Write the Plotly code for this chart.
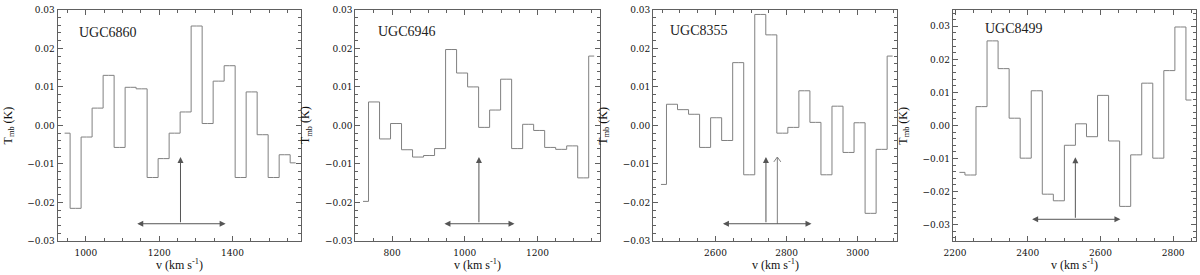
import plotly.graph_objects as go

# ---------------- data ----------------
names = ["UGC6860", "UGC6946", "UGC8355", "UGC8499"]

v_start = [942, 720, 2447, 2212]          # km/s, first channel centre
v_step = [30.0, 30.3, 31.0, 30.4]         # km/s, channel width

t_ugc6860 = [-0.002, -0.0215, -0.003, 0.0045, 0.013, -0.0057, 0.0099, 0.0095,
             -0.0135, -0.0086, -0.002, 0.0035, 0.0258, 0.0005, 0.0115, 0.0155,
             -0.0135, 0.0087, -0.0024, -0.0135, -0.0076, -0.0097]
t_ugc6946 = [-0.0197, 0.0061, -0.0035, 0.0005, -0.0063, -0.0082, -0.0078, -0.006,
             0.0197, 0.0136, 0.010, -0.0005, 0.004, 0.012, -0.006, 0.0003,
             -0.0013, -0.0057, -0.0062, -0.0053, -0.0136, 0.018]
t_ugc8355 = [-0.0153, 0.0055, 0.0041, 0.0029, -0.0057, 0.002, -0.0039, 0.0163,
             -0.0128, 0.0288, 0.0235, -0.002, -0.0005, 0.009, 0.0008, -0.0128,
             0.005, -0.007, 0.0007, -0.0228, -0.0062, 0.018]
t_ugc8499 = [-0.0142, -0.015, 0.0057, 0.0256, 0.0172, 0.0022, -0.0099, 0.0105,
             -0.0208, -0.0228, -0.006, 0.0005, -0.0034, 0.0091, -0.0047, -0.0245,
             -0.0089, 0.0128, -0.0099, 0.0166, 0.0298, 0.0077]
spectra = [t_ugc6860, t_ugc6946, t_ugc8355, t_ugc8499]

x_ranges = [[923, 1586], [699, 1371], [2425, 3111], [2194, 2863]]
y_ranges = [[-0.03, 0.0300001], [-0.03, 0.0300001], [-0.03, 0.0300001], [-0.035, 0.035]]

# arrows: systemic velocity (filled), optional second velocity (open), width range
arrow_vsys = [1258, 1039, 2742, 2531]
arrow_vopen = [None, None, 2774, None]
arrow_tip = [-0.0082, -0.0082, -0.0082, -0.0096]
arrow_base = [-0.0255, -0.0255, -0.0255, -0.0284]
arrow_left = [1136, 940, 2617, 2408]
arrow_right = [1381, 1137, 2870, 2655]

# ---------------- layout helpers ----------------
W, H = 1200, 275
panel_px = [(49, 294), (349, 595), (649, 895), (951, 1196)]
top_px, bot_px = 5, 245
name_pos_x = [0.081, 0.085, 0.062, 0.122]
name_pos_y = [0.904, 0.905, 0.91, 0.92]

LINE = "#808080"
AXC = "#606060"
FONT = "Liberation Serif"
TICKFONT = "DejaVu Serif"

fig = go.Figure()
annotations = []

for i in range(4):
    n = i + 1
    xa = "x" if n == 1 else f"x{n}"
    ya = "y" if n == 1 else f"y{n}"
    xs = [v_start[i] + v_step[i] * k for k in range(len(spectra[i]))]
    fig.add_trace(go.Scatter(x=xs, y=spectra[i], mode="lines",
                             line=dict(shape="hvh", color=LINE, width=1),
                             xaxis=xa, yaxis=ya, showlegend=False, hoverinfo="skip"))

    # open chevron head for second velocity marker
    if arrow_vopen[i] is not None:
        vo = arrow_vopen[i]
        dx = 3.5 * (x_ranges[i][1] - x_ranges[i][0]) / (panel_px[i][1] - panel_px[i][0])
        dy = 5.0 * (y_ranges[i][1] - y_ranges[i][0]) / (bot_px - top_px)
        fig.add_trace(go.Scatter(x=[vo, vo, None, vo - dx, vo, vo + dx],
                                 y=[arrow_base[i], arrow_tip[i], None,
                                    arrow_tip[i] - dy, arrow_tip[i], arrow_tip[i] - dy],
                                 mode="lines", line=dict(color=LINE, width=1),
                                 xaxis=xa, yaxis=ya, showlegend=False, hoverinfo="skip"))

    x0, x1 = panel_px[i]
    dom_x = [x0 / W, x1 / W]
    dom_y = [1 - bot_px / H, 1 - top_px / H]
    common = dict(showgrid=False, zeroline=False, showline=True, linecolor=AXC,
                  linewidth=1, mirror="ticks", ticks="inside", ticklen=5,
                  tickcolor=AXC, tickwidth=1, ticklabeloverflow="allow",
                  tickfont=dict(family=TICKFONT, size=9, color="#111"))
    fig.layout[f"xaxis{'' if n == 1 else n}"] = dict(
        domain=dom_x, range=x_ranges[i], anchor=ya, dtick=200, tick0=0,
        minor=dict(dtick=50, ticks="inside", ticklen=3, tickcolor=AXC),
        ticklabelstandoff=3, **common)
    fig.layout[f"yaxis{'' if n == 1 else n}"] = dict(
        domain=dom_y, range=y_ranges[i], anchor=xa, dtick=0.01, tick0=0,
        tickformat=".2f",
        minor=dict(dtick=0.002, ticks="inside", ticklen=3, tickcolor=AXC),
        **common)

    xd = f"{xa} domain"
    yd = f"{ya} domain"
    # galaxy name
    annotations.append(dict(text=names[i], xref=xd, yref=yd,
                            x=name_pos_x[i], y=name_pos_y[i],
                            xanchor="left", yanchor="middle", showarrow=False,
                            font=dict(family=FONT, size=14, color="#222")))
    # axis titles
    annotations.append(dict(text="v (km s<sup>-1</sup>)", xref=xd, yref=yd,
                            x=0.5, y=-0.103, xanchor="center", yanchor="middle",
                            showarrow=False, font=dict(family=FONT, size=12, color="#111")))
    annotations.append(dict(text="T<sub>mb</sub> (K)", xref=xd, yref=yd,
                            x=-0.2, y=0.5, xanchor="center", yanchor="middle",
                            textangle=-90, showarrow=False,
                            font=dict(family=FONT, size=12, color="#111")))
    # vertical filled arrow
    annotations.append(dict(x=arrow_vsys[i], y=arrow_tip[i], ax=arrow_vsys[i],
                            ay=arrow_base[i], xref=xa, yref=ya, axref=xa, ayref=ya,
                            text="", showarrow=True, arrowhead=2, arrowsize=1.2,
                            arrowwidth=1, arrowcolor="#555"))
    # horizontal double arrow
    annotations.append(dict(x=arrow_right[i], y=arrow_base[i], ax=arrow_left[i],
                            ay=arrow_base[i], xref=xa, yref=ya, axref=xa, ayref=ya,
                            text="", showarrow=True, arrowhead=2, startarrowhead=2,
                            arrowside="end+start", arrowsize=1.2, startarrowsize=1.2,
                            arrowwidth=1, arrowcolor="#555"))

fig.update_layout(width=W, height=H, margin=dict(l=0, r=0, t=0, b=0),
                  paper_bgcolor="white", plot_bgcolor="white",
                  annotations=annotations, showlegend=False)

fig.write_html("out.html", config={"displayModeBar": False},
               post_script="document.body.style.margin='0';document.body.style.overflow='hidden';")
